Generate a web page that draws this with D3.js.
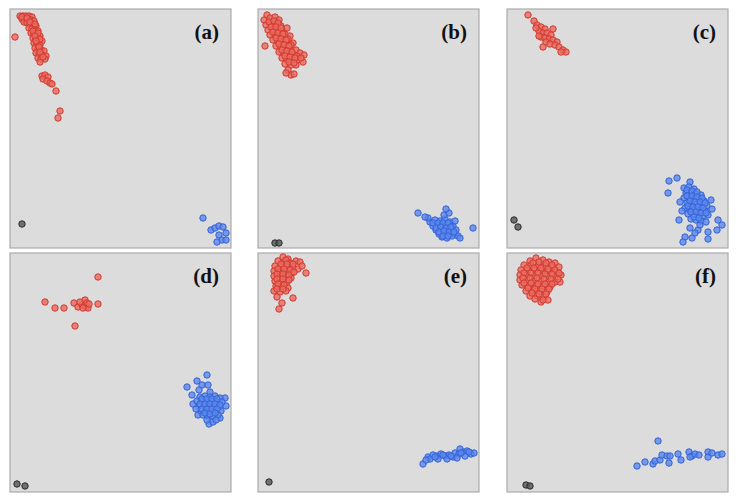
<!DOCTYPE html>
<html>
<head>
<meta charset="utf-8">
<script src="https://cdn.jsdelivr.net/npm/d3@7"></script>
<style>
  body { margin: 0; background: #fff; }
  svg { display: block; }
</style>
</head>
<body>
<svg id="chart" width="739" height="503"></svg>
<script>
// panel labels
const labels = ["(a)", "(b)", "(c)", "(d)", "(e)", "(f)"];

// embedding coordinates [x, y] per panel and group
const redA = [[10,232],[13,232],[16,232],[19,232],[22,231],[12,229],[15,229],[18,229],[21,228],[24,227],[14,226],[17,225],[20,224],[23,223],[26,222],[19,220],[22,219],[25,218],[28,217],[21,215],[24,214],[27,213],[30,212],[23,210],[26,209],[29,208],[32,207],[24,205],[27,204],[30,203],[25,200],[28,199],[31,198],[34,197],[26,195],[29,194],[32,193],[36,192],[28,190],[31,189],[35,189],[30,186],[5,211],[32,172],[35,173],[38,171],[33,169],[37,167],[40,165],[42,164],[46,157],[50,137],[48,130],
  [12,231],[17,230],[20,226],[25,224],[23,217],[28,215],[25,212],[30,209],[26,207],[29,201],[30,196],[33,191]];
const blueA = [[193,30],[201,18],[205,20],[209,22],[213,21],[216,15],[209,13],[212,8],[207,6],[216,8]];
const blackA = [[12,24]];

const redB = [[9,233],[6,228],[12,230],[17,231],[21,228],[8,223],[13,224],[18,224],[23,222],[10,218],[15,219],[20,218],[25,217],[29,220],[12,213],[17,213],[22,212],[27,211],[32,212],[15,208],[20,207],[25,206],[30,206],[35,205],[18,202],[23,201],[28,200],[33,200],[38,198],[21,196],[26,195],[31,194],[36,193],[42,195],[46,193],[24,190],[29,189],[34,188],[40,188],[45,186],[27,184],[33,183],[38,183],[30,178],[33,173],[36,174],[28,175],[7,202],
  [11,226],[16,227],[20,225],[13,221],[18,221],[23,220],[27,214],[15,216],[20,215],[25,214],[30,209],[18,210],[23,209],[28,208],[33,203],[21,204],[26,203],[31,202],[24,198],[29,197],[34,196],[39,192],[27,192],[32,191],[37,190],[43,190],[31,186],[36,185]];
const blueB = [[172,26],[177,28],[182,27],[187,29],[192,26],[175,22],[180,23],[185,22],[190,23],[195,22],[178,18],[183,19],[188,18],[193,19],[198,18],[181,14],[186,15],[191,14],[196,14],[200,12],[184,11],[189,10],[194,12],[202,10],[170,30],[197,27],[186,33],[191,35],[160,35],[188,39],[215,20],[167,31],
  [175,25],[180,25],[185,25],[190,25],[178,20],[183,21],[188,20],[193,21],[181,16],[186,17],[191,16],[196,16],[185,12],[190,12]];
const blackB = [[17,5],[21,5]];

const redC = [[21,233],[27,227],[30,223],[34,221],[38,219],[46,219],[32,217],[36,215],[40,215],[44,213],[34,211],[38,210],[42,209],[46,208],[50,206],[39,206],[43,204],[48,203],[52,201],[56,198],[59,196],[54,196],[36,201],[29,220],[32,212]];
const blueC = [[162,67],[170,70],[183,66],[161,55],[172,28],[183,20],[191,18],[201,16],[211,28],[215,23],[210,18],[178,11],[185,10],[201,9],[176,6],[188,15],[204,48],[177,60],[182,61],[187,59],[179,55],[184,55],[189,54],[194,53],[177,50],[182,50],[187,49],[192,49],[197,47],[180,45],[185,44],[190,44],[195,43],[200,42],[178,40],[183,39],[188,39],[193,38],[198,37],[181,34],[186,34],[191,33],[196,32],[201,33],[184,29],[189,28],[194,27],[175,37],[173,46],[199,26],[193,23],[205,39],
  [180,58],[185,57],[190,56],[180,52],[185,52],[190,51],[195,50],[183,47],[188,46],[193,46],[198,45],[181,42],[186,41],[191,41],[196,40],[184,36],[189,36],[194,35],[199,35],[187,31],[192,30]];
const blackC = [[7,28],[11,21]];

const redD = [[88,215],[35,190],[45,184],[54,184],[64,189],[68,185],[72,187],[75,192],[76,185],[78,184],[77,189],[73,184],[88,188],[65,166],[70,190],[79,188]];
const blueD = [[197,117],[177,105],[187,111],[192,107],[198,107],[189,102],[200,100],[182,97],[183,88],[215,94],[216,86],[210,74],[199,68],[203,70],[188,77],[190,95],[195,96],[200,95],[205,96],[210,94],[187,91],[192,91],[197,90],[202,91],[207,90],[212,90],[189,86],[194,86],[199,85],[204,86],[209,85],[191,81],[196,81],[201,80],[206,81],[211,81],[193,77],[198,76],[203,76],[208,77],[186,83],[197,72],[206,72],
  [192,93],[197,93],[202,93],[207,93],[190,88],[195,88],[200,88],[205,88],[210,87],[192,83],[197,83],[202,83],[207,83],[195,79],[200,78],[205,79]];
const blackD = [[7,8],[15,6]];

const redE = [[25,235],[30,233],[20,231],[26,230],[32,229],[38,231],[17,226],[23,225],[29,225],[35,225],[16,221],[22,220],[28,220],[34,219],[16,216],[22,215],[28,215],[33,214],[17,211],[23,210],[29,210],[18,206],[24,205],[30,204],[16,201],[22,200],[28,201],[42,230],[48,219],[35,194],[24,189],[21,183],[19,195],[40,223],
  [28,232],[23,228],[29,228],[35,228],[20,223],[26,223],[32,222],[19,218],[25,218],[31,217],[19,213],[25,213],[31,212],[20,208],[26,207],[19,203],[25,203],[44,226],[36,220]];
const blueE = [[165,28],[170,35],[175,37],[179,36],[183,38],[187,36],[191,37],[195,35],[197,39],[201,38],[205,40],[209,41],[213,38],[216,39],[207,36],[189,33],[199,34],[180,33],[172,33],[202,43],
  [168,32],[177,35],[185,37],[193,36],[203,39],[211,40]];
const blackE = [[11,10]];

const redF = [[29,234],[36,232],[23,231],[42,230],[48,229],[17,227],[24,227],[31,227],[38,226],[45,225],[52,225],[14,222],[21,222],[28,222],[35,221],[42,221],[49,220],[13,217],[20,217],[27,216],[34,216],[41,216],[48,215],[54,217],[13,212],[20,212],[27,211],[34,211],[41,210],[48,210],[15,207],[22,206],[29,206],[36,206],[43,205],[19,201],[26,201],[33,201],[40,200],[23,196],[30,196],[37,195],[34,190],[41,192],[53,210],
  [32,230],[39,229],[26,229],[45,227],[20,224],[27,224],[34,224],[41,223],[48,222],[17,219],[24,219],[31,219],[38,218],[45,218],[52,219],[16,214],[23,214],[30,214],[37,213],[44,213],[51,213],[17,209],[24,209],[31,208],[38,208],[45,208],[21,204],[28,203],[35,203],[42,203],[25,199],[32,198],[39,198],[28,193],[36,192]];
const blueF = [[130,26],[138,30],[146,28],[148,31],[153,32],[151,51],[155,37],[160,36],[162,29],[163,36],[171,38],[174,32],[182,40],[185,36],[183,35],[188,38],[192,37],[201,40],[201,35],[205,39],[211,37],[215,38]];
const blackF = [[19,7],[23,6]];

const panels = [
  {red: redA, blue: blueA, black: blackA},
  {red: redB, blue: blueB, black: blackB},
  {red: redC, blue: blueC, black: blackC},
  {red: redD, blue: blueD, black: blackD},
  {red: redE, blue: blueE, black: blackE},
  {red: redF, blue: blueF, black: blackF}
];

const svg = d3.select("#chart");
const colLeft = [10, 258, 507];
const rowTop = [9, 253];
const pw = 221, ph = 239;

const x = d3.scaleLinear().domain([0, 221]).range([0, pw]);
const y = d3.scaleLinear().domain([0, 239]).range([ph, 0]);

const styles = {
  red: {fill: "#ea6a5f", stroke: "#d2392f"},
  blue: {fill: "#5a88ee", stroke: "#3562d6"},
  black: {fill: "#555", stroke: "#2a2a2a"}
};

panels.forEach((p, i) => {
  const g = svg.append("g")
    .attr("transform", `translate(${colLeft[i % 3]},${rowTop[Math.floor(i / 3)]})`);

  g.append("rect")
    .attr("width", pw)
    .attr("height", ph)
    .attr("fill", "#dcdcdc")
    .attr("stroke", "#ababab")
    .attr("stroke-width", 1.2);

  ["red", "blue", "black"].forEach(k => {
    g.append("g").selectAll("circle")
      .data(p[k])
      .join("circle")
        .attr("cx", d => x(d[0]))
        .attr("cy", d => y(d[1]))
        .attr("r", 3.2)
        .attr("fill", styles[k].fill)
        .attr("fill-opacity", 0.8)
        .attr("stroke", styles[k].stroke)
        .attr("stroke-width", 1);
  });

  g.append("text")
    .attr("x", pw - 12)
    .attr("y", 30)
    .attr("text-anchor", "end")
    .attr("font-family", "Liberation Serif, Times New Roman, serif")
    .attr("font-weight", "bold")
    .attr("font-size", 21)
    .attr("fill", "#111")
    .text(labels[i]);
});
</script>
</body>
</html>
